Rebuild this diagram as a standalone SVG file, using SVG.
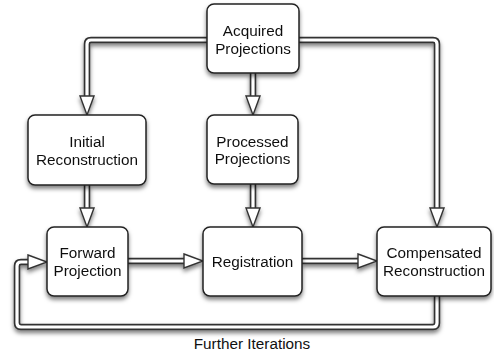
<svg xmlns="http://www.w3.org/2000/svg" width="494" height="354" viewBox="0 0 494 354">
  <defs>
    <style>
      .box { fill: #ffffff; stroke: #222222; stroke-width: 1.5; }
      .lbl { font-family: "Liberation Sans", Arial, Helvetica, sans-serif; font-size: 15.3px; fill: #111111; text-anchor: middle; }
      .wire-outer { fill: none; stroke: #333333; stroke-width: 6.5; stroke-linejoin: round; }
      .wire-inner { fill: none; stroke: #ffffff; stroke-width: 3.2; stroke-linejoin: round; marker-end: url(#head); }
    </style>
    <filter id="shadow" x="-20%" y="-20%" width="140%" height="150%">
      <feDropShadow dx="0" dy="3" stdDeviation="2" flood-color="#000000" flood-opacity="0.5"/>
    </filter>
    <!-- hollow triangular arrowhead; reference point sits on its base -->
    <marker id="head" markerUnits="userSpaceOnUse" viewBox="-1 -9 22 18" markerWidth="22" markerHeight="18" refX="0" refY="0" orient="auto" overflow="visible">
      <path d="M0,-7 L19,0 L0,7 Z" fill="#ffffff" stroke="#333333" stroke-width="1.4" stroke-linejoin="miter"/>
    </marker>
  </defs>

  <rect width="494" height="354" fill="#ffffff"/>

  <!-- connectors: dark outer stroke with a white core gives the double line -->
  <g id="connectors" filter="url(#shadow)">
    <g class="wire-outer">
      <path d="M207,40 H91 Q87,40 87,44 V96"/>
      <path d="M253,73 V96"/>
      <path d="M299,40 H433 Q437,40 437,44 V208"/>
      <path d="M87,185 V208"/>
      <path d="M253,184 V208"/>
      <path d="M128,261 H184"/>
      <path d="M302,261 H358"/>
      <path d="M437,295 V323 Q437,327 433,327 H21 Q17,327 17,323 V266 Q17,262 21,262 H28"/>
    </g>
    <g class="wire-inner">
      <path d="M207,40 H91 Q87,40 87,44 V96"/>
      <path d="M253,73 V96"/>
      <path d="M299,40 H433 Q437,40 437,44 V208"/>
      <path d="M87,185 V208"/>
      <path d="M253,184 V208"/>
      <path d="M128,261 H184"/>
      <path d="M302,261 H358"/>
      <path d="M437,295 V323 Q437,327 433,327 H21 Q17,327 17,323 V266 Q17,262 21,262 H28"/>
    </g>
  </g>

  <g id="acquired" filter="url(#shadow)">
    <rect class="box" x="207" y="4" width="92" height="69" rx="7"/>
    <text class="lbl" x="253" y="36">Acquired</text>
    <text class="lbl" x="253" y="53.5">Projections</text>
  </g>

  <g id="initial" filter="url(#shadow)">
    <rect class="box" x="28" y="115" width="118" height="70" rx="7"/>
    <text class="lbl" x="87" y="147">Initial</text>
    <text class="lbl" x="87" y="165">Reconstruction</text>
  </g>

  <g id="processed" filter="url(#shadow)">
    <rect class="box" x="207" y="115" width="91" height="69" rx="7"/>
    <text class="lbl" x="252.5" y="146.5">Processed</text>
    <text class="lbl" x="252.5" y="164">Projections</text>
  </g>

  <g id="forward" filter="url(#shadow)">
    <rect class="box" x="47" y="227" width="81" height="69" rx="7"/>
    <text class="lbl" x="87.5" y="258">Forward</text>
    <text class="lbl" x="87.5" y="275.5">Projection</text>
  </g>

  <g id="registration" filter="url(#shadow)">
    <rect class="box" x="203" y="227" width="99" height="69" rx="7"/>
    <text class="lbl" x="252.5" y="266.5">Registration</text>
  </g>

  <g id="compensated" filter="url(#shadow)">
    <rect class="box" x="377" y="227" width="114" height="69" rx="7"/>
    <text class="lbl" x="434" y="258">Compensated</text>
    <text class="lbl" x="434" y="275.5">Reconstruction</text>
  </g>

  <text id="loop-label" class="lbl" x="252" y="349">Further Iterations</text>
</svg>
